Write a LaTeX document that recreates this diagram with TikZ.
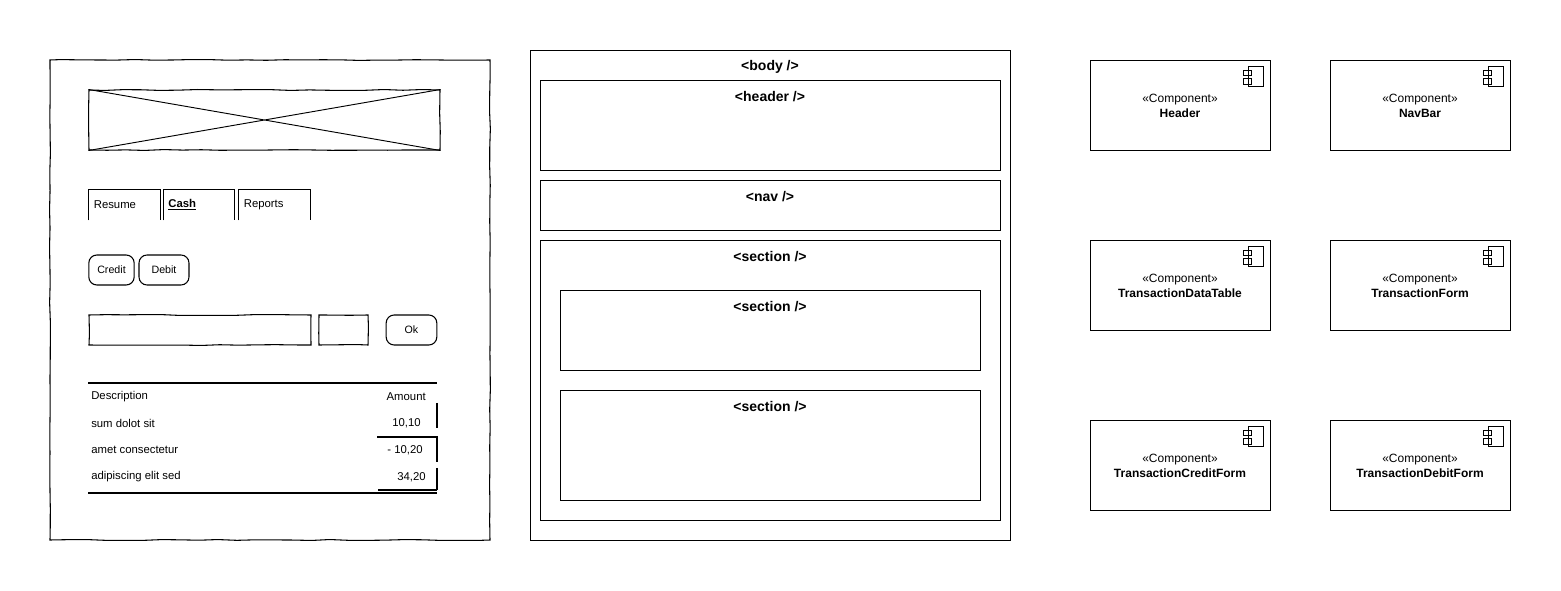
\documentclass[tikz,border=0pt]{standalone}
\usepackage{fontspec}
\setmainfont{Liberation Sans}
\usetikzlibrary{fit,decorations.pathmorphing}

\begin{document}
\begin{tikzpicture}[x=0.75pt,y=-0.75pt,
	sketch/.style={draw, line width=0.8pt, inner sep=0pt, decorate,
		decoration={random steps, segment length=14pt, amplitude=0.35pt}},
	btn/.style={draw, line width=0.8pt, rounded corners=6pt, inner sep=0pt,
		minimum height=22.5pt, font=\fontsize{8}{10}\selectfont},
	hand/.style={font=\fontsize{8.5}{10}\selectfont, inner sep=0pt},
	tab/.style={minimum height=22.5pt, text width=46pt, inner xsep=3.5pt, align=left,
		font=\fontsize{8.5}{10}\selectfont},
	box/.style={draw, line width=0.6pt, inner sep=0pt},
	tag/.style={font=\fontsize{10.5}{12}\selectfont\bfseries, yshift=-1.2pt},
	comp/.style={font=\fontsize{9}{11.25}\selectfont, align=center, yshift=-0.8pt}]
	\useasboundingbox (0,0) rectangle (1561,591);

	% wireframe
		\node[sketch, fit={(50,60) (490,540)}] (screen) {};
		\node[sketch, fit={(89,90) (440,150)}] (logo) {};
		\draw[line width=0.7pt] (logo.north west) -- (logo.south east) (logo.south west) -- (logo.north east);

		\node[tab] (tabResume) at (124.5,205) {Resume};
		\node[tab] (tabCash) at (199,205) {\underline{\textbf{Cash}}};
		\node[tab] (tabReports) at (274.5,205) {Reports};
		\draw[line width=0.8pt] (tabResume.south west) |- (tabResume.north east) -- (tabResume.south east);
		\draw[line width=0.8pt] (tabCash.south west) |- (tabCash.north east) -- (tabCash.south east);
		\draw[line width=0.8pt] (tabReports.south west) |- (tabReports.north east) -- (tabReports.south east);

		\node[btn, minimum width=34pt] (btnCredit) at (111.5,270) {Credit};
		\node[btn, minimum width=37.5pt] (btnDebit) at (164,270) {Debit};

		\node[sketch, fit={(89,315) (311,345)}] (input) {};
		\node[sketch, fit={(319,315) (368,345)}] (amount) {};
		\node[btn, minimum width=38pt] (btnOk) at (411.5,330) {Ok};

		\coordinate (tTL) at (88,383);
		\coordinate (tTR) at (437,383);
		\coordinate (tBL) at (88,493);
		\coordinate (tBR) at (437,493);
		\draw[line width=1.2pt] (tTL) -- (tTR);
		\draw[line width=1.2pt] (tBL) -- (tBR);
		\draw[line width=0.9pt] (437,403) -- (437,428) (377,437) -- (437,437) -- (437,462) (437,468) -- (437,490) (378,490) -- (437,490);
		\node[hand, anchor=west] (hDesc) at (91,397) {Description};
		\node[hand, anchor=east] (hAmount) at (426,397) {Amount};
		\node[hand, anchor=west] (r1Desc) at (91,423) {sum dolot sit};
		\node[hand, anchor=east] (r1Amount) at (421,423) {10,10};
		\node[hand, anchor=west] (r2Desc) at (91,450) {amet consectetur};
		\node[hand, anchor=east] (r2Amount) at (423,450) {- 10,20};
		\node[hand, anchor=west] (r3Desc) at (91,477) {adipiscing elit sed};
		\node[hand, anchor=east] (r3Amount) at (426,477) {34,20};

	% page structure
		\node[box, fit={(530,50) (1010,540)}] (body) {};
		\node[tag] (bodyTag) at (770,65) {<body />};
		\node[box, fit={(540,80) (1000,170)}] (header) {};
		\node[tag] (headerTag) at (770,95) {<header />};
		\node[box, fit={(540,180) (1000,230)}] (nav) {};
		\node[tag] (navTag) at (770,195) {<nav />};
		\node[box, fit={(540,240) (1000,520)}] (section) {};
		\node[tag] (sectionTag) at (770,255) {<section />};
		\node[box, fit={(560,290) (980,370)}] (sectionA) {};
		\node[tag] (sectionATag) at (770,305) {<section />};
		\node[box, fit={(560,390) (980,500)}] (sectionB) {};
		\node[tag] (sectionBTag) at (770,405) {<section />};

	% components
		\node[box, fit={(1090,60) (1270,150)}] (cHeader) {};
		\node[comp] (cHeaderTxt) at (cHeader) {«Component»\\\textbf{Header}};
		\node[box, fit={(1330,60) (1510,150)}] (cNavBar) {};
		\node[comp] (cNavBarTxt) at (cNavBar) {«Component»\\\textbf{NavBar}};
		\node[box, fit={(1090,240) (1270,330)}] (cTable) {};
		\node[comp] (cTableTxt) at (cTable) {«Component»\\\textbf{TransactionDataTable}};
		\node[box, fit={(1330,240) (1510,330)}] (cForm) {};
		\node[comp] (cFormTxt) at (cForm) {«Component»\\\textbf{TransactionForm}};
		\node[box, fit={(1090,420) (1270,510)}] (cCredit) {};
		\node[comp] (cCreditTxt) at (cCredit) {«Component»\\\textbf{TransactionCreditForm}};
		\node[box, fit={(1330,420) (1510,510)}] (cDebit) {};
		\node[comp] (cDebitTxt) at (cDebit) {«Component»\\\textbf{TransactionDebitForm}};

		\foreach \c in {cHeader,cNavBar,cTable,cForm,cCredit,cDebit}
			\draw[line width=0.6pt, fill=white]
				([shift={(-22.5,7)}]\c.north east) rectangle ([shift={(-7,27)}]\c.north east)
				([shift={(-27,10.5)}]\c.north east) rectangle ([shift={(-19,16)}]\c.north east)
				([shift={(-27,19)}]\c.north east) rectangle ([shift={(-19,24.5)}]\c.north east);
\end{tikzpicture}
\end{document}
